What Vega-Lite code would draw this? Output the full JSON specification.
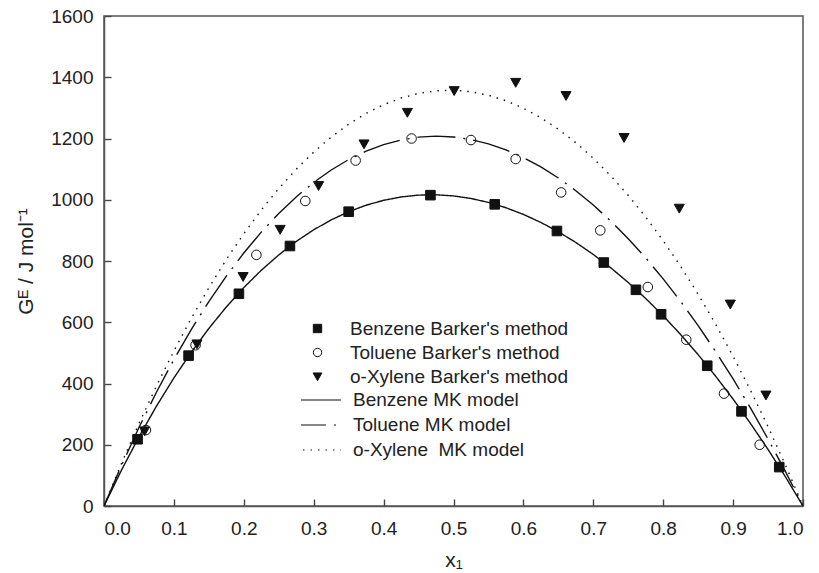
{
  "$schema": "https://vega.github.io/schema/vega-lite/v6.json",
  "width": 699,
  "height": 490,
  "autosize": {"type": "none"},
  "padding": {"left": 104, "top": 16, "right": 16, "bottom": 67},
  "background": "white",
  "config": {
    "font": "Liberation Sans",
    "view": {"stroke": "#555555", "strokeWidth": 1.5},
    "axis": {
      "grid": false,
      "domainColor": "#555555",
      "domainWidth": 1.5,
      "tickColor": "#444444",
      "tickWidth": 1.4,
      "tickSize": -7,
      "labelFont": "Liberation Sans",
      "labelFontSize": 19,
      "labelColor": "#222222",
      "titleFont": "Liberation Sans",
      "titleFontSize": 21,
      "titleFontWeight": "normal",
      "titleColor": "#222222"
    },
    "legend": {
      "labelFont": "Liberation Sans",
      "labelFontSize": 19,
      "labelColor": "#222222",
      "labelLimit": 0,
      "padding": 0,
      "rowPadding": 4,
      "symbolStrokeColor": "#111111",
      "symbolStrokeWidth": 1
    }
  },
  "datasets": {
    "points": [
      {"x": 0.048, "G": 218, "series": "Benzene Barker's method"},
      {"x": 0.121, "G": 491, "series": "Benzene Barker's method"},
      {"x": 0.193, "G": 693, "series": "Benzene Barker's method"},
      {"x": 0.266, "G": 849, "series": "Benzene Barker's method"},
      {"x": 0.350, "G": 961, "series": "Benzene Barker's method"},
      {"x": 0.467, "G": 1015, "series": "Benzene Barker's method"},
      {"x": 0.559, "G": 985, "series": "Benzene Barker's method"},
      {"x": 0.648, "G": 898, "series": "Benzene Barker's method"},
      {"x": 0.715, "G": 795, "series": "Benzene Barker's method"},
      {"x": 0.761, "G": 706, "series": "Benzene Barker's method"},
      {"x": 0.797, "G": 626, "series": "Benzene Barker's method"},
      {"x": 0.863, "G": 458, "series": "Benzene Barker's method"},
      {"x": 0.912, "G": 309, "series": "Benzene Barker's method"},
      {"x": 0.966, "G": 127, "series": "Benzene Barker's method"},
      {"x": 0.060, "G": 248, "series": "Toluene Barker's method"},
      {"x": 0.131, "G": 525, "series": "Toluene Barker's method"},
      {"x": 0.218, "G": 820, "series": "Toluene Barker's method"},
      {"x": 0.288, "G": 996, "series": "Toluene Barker's method"},
      {"x": 0.360, "G": 1128, "series": "Toluene Barker's method"},
      {"x": 0.440, "G": 1200, "series": "Toluene Barker's method"},
      {"x": 0.525, "G": 1195, "series": "Toluene Barker's method"},
      {"x": 0.589, "G": 1133, "series": "Toluene Barker's method"},
      {"x": 0.654, "G": 1024, "series": "Toluene Barker's method"},
      {"x": 0.710, "G": 900, "series": "Toluene Barker's method"},
      {"x": 0.778, "G": 715, "series": "Toluene Barker's method"},
      {"x": 0.833, "G": 543, "series": "Toluene Barker's method"},
      {"x": 0.887, "G": 367, "series": "Toluene Barker's method"},
      {"x": 0.938, "G": 200, "series": "Toluene Barker's method"},
      {"x": 0.058, "G": 245, "series": "o-Xylene Barker's method"},
      {"x": 0.133, "G": 529, "series": "o-Xylene Barker's method"},
      {"x": 0.199, "G": 749, "series": "o-Xylene Barker's method"},
      {"x": 0.252, "G": 903, "series": "o-Xylene Barker's method"},
      {"x": 0.307, "G": 1046, "series": "o-Xylene Barker's method"},
      {"x": 0.372, "G": 1182, "series": "o-Xylene Barker's method"},
      {"x": 0.434, "G": 1285, "series": "o-Xylene Barker's method"},
      {"x": 0.501, "G": 1356, "series": "o-Xylene Barker's method"},
      {"x": 0.589, "G": 1383, "series": "o-Xylene Barker's method"},
      {"x": 0.661, "G": 1340, "series": "o-Xylene Barker's method"},
      {"x": 0.744, "G": 1203, "series": "o-Xylene Barker's method"},
      {"x": 0.823, "G": 972, "series": "o-Xylene Barker's method"},
      {"x": 0.896, "G": 659, "series": "o-Xylene Barker's method"},
      {"x": 0.947, "G": 362, "series": "o-Xylene Barker's method"}
    ],
    "curves": [
      {"x": 0.0, "G": 0, "model": "Benzene MK model"},
      {"x": 0.025, "G": 117.1, "model": "Benzene MK model"},
      {"x": 0.05, "G": 225.6, "model": "Benzene MK model"},
      {"x": 0.075, "G": 325.8, "model": "Benzene MK model"},
      {"x": 0.1, "G": 418.1, "model": "Benzene MK model"},
      {"x": 0.125, "G": 502.6, "model": "Benzene MK model"},
      {"x": 0.15, "G": 579.8, "model": "Benzene MK model"},
      {"x": 0.175, "G": 649.9, "model": "Benzene MK model"},
      {"x": 0.2, "G": 713.1, "model": "Benzene MK model"},
      {"x": 0.225, "G": 769.7, "model": "Benzene MK model"},
      {"x": 0.25, "G": 819.8, "model": "Benzene MK model"},
      {"x": 0.275, "G": 863.9, "model": "Benzene MK model"},
      {"x": 0.3, "G": 901.9, "model": "Benzene MK model"},
      {"x": 0.325, "G": 934.2, "model": "Benzene MK model"},
      {"x": 0.35, "G": 960.9, "model": "Benzene MK model"},
      {"x": 0.375, "G": 982.2, "model": "Benzene MK model"},
      {"x": 0.4, "G": 998.2, "model": "Benzene MK model"},
      {"x": 0.425, "G": 1009.1, "model": "Benzene MK model"},
      {"x": 0.45, "G": 1015.1, "model": "Benzene MK model"},
      {"x": 0.475, "G": 1016.2, "model": "Benzene MK model"},
      {"x": 0.5, "G": 1012.5, "model": "Benzene MK model"},
      {"x": 0.525, "G": 1004.2, "model": "Benzene MK model"},
      {"x": 0.55, "G": 991.3, "model": "Benzene MK model"},
      {"x": 0.575, "G": 973.9, "model": "Benzene MK model"},
      {"x": 0.6, "G": 952.1, "model": "Benzene MK model"},
      {"x": 0.625, "G": 925.9, "model": "Benzene MK model"},
      {"x": 0.65, "G": 895.4, "model": "Benzene MK model"},
      {"x": 0.675, "G": 860.5, "model": "Benzene MK model"},
      {"x": 0.7, "G": 821.3, "model": "Benzene MK model"},
      {"x": 0.725, "G": 777.7, "model": "Benzene MK model"},
      {"x": 0.75, "G": 729.8, "model": "Benzene MK model"},
      {"x": 0.775, "G": 677.6, "model": "Benzene MK model"},
      {"x": 0.8, "G": 620.9, "model": "Benzene MK model"},
      {"x": 0.825, "G": 559.8, "model": "Benzene MK model"},
      {"x": 0.85, "G": 494.1, "model": "Benzene MK model"},
      {"x": 0.875, "G": 423.9, "model": "Benzene MK model"},
      {"x": 0.9, "G": 349.0, "model": "Benzene MK model"},
      {"x": 0.925, "G": 269.2, "model": "Benzene MK model"},
      {"x": 0.95, "G": 184.6, "model": "Benzene MK model"},
      {"x": 0.975, "G": 94.9, "model": "Benzene MK model"},
      {"x": 1.0, "G": 0, "model": "Benzene MK model"},
      {"x": 0.0, "G": 0, "model": "Toluene MK model"},
      {"x": 0.025, "G": 132.5, "model": "Toluene MK model"},
      {"x": 0.05, "G": 256.2, "model": "Toluene MK model"},
      {"x": 0.075, "G": 371.4, "model": "Toluene MK model"},
      {"x": 0.1, "G": 478.2, "model": "Toluene MK model"},
      {"x": 0.125, "G": 576.8, "model": "Toluene MK model"},
      {"x": 0.15, "G": 667.6, "model": "Toluene MK model"},
      {"x": 0.175, "G": 750.6, "model": "Toluene MK model"},
      {"x": 0.2, "G": 826.1, "model": "Toluene MK model"},
      {"x": 0.225, "G": 894.3, "model": "Toluene MK model"},
      {"x": 0.25, "G": 955.3, "model": "Toluene MK model"},
      {"x": 0.275, "G": 1009.3, "model": "Toluene MK model"},
      {"x": 0.3, "G": 1056.6, "model": "Toluene MK model"},
      {"x": 0.325, "G": 1097.1, "model": "Toluene MK model"},
      {"x": 0.35, "G": 1131.1, "model": "Toluene MK model"},
      {"x": 0.375, "G": 1158.7, "model": "Toluene MK model"},
      {"x": 0.4, "G": 1180.0, "model": "Toluene MK model"},
      {"x": 0.425, "G": 1195.2, "model": "Toluene MK model"},
      {"x": 0.45, "G": 1204.4, "model": "Toluene MK model"},
      {"x": 0.475, "G": 1207.6, "model": "Toluene MK model"},
      {"x": 0.5, "G": 1205.0, "model": "Toluene MK model"},
      {"x": 0.525, "G": 1196.6, "model": "Toluene MK model"},
      {"x": 0.55, "G": 1182.6, "model": "Toluene MK model"},
      {"x": 0.575, "G": 1162.9, "model": "Toluene MK model"},
      {"x": 0.6, "G": 1137.8, "model": "Toluene MK model"},
      {"x": 0.625, "G": 1107.1, "model": "Toluene MK model"},
      {"x": 0.65, "G": 1071.0, "model": "Toluene MK model"},
      {"x": 0.675, "G": 1029.5, "model": "Toluene MK model"},
      {"x": 0.7, "G": 982.6, "model": "Toluene MK model"},
      {"x": 0.725, "G": 930.4, "model": "Toluene MK model"},
      {"x": 0.75, "G": 872.8, "model": "Toluene MK model"},
      {"x": 0.775, "G": 809.9, "model": "Toluene MK model"},
      {"x": 0.8, "G": 741.6, "model": "Toluene MK model"},
      {"x": 0.825, "G": 668.0, "model": "Toluene MK model"},
      {"x": 0.85, "G": 589.0, "model": "Toluene MK model"},
      {"x": 0.875, "G": 504.6, "model": "Toluene MK model"},
      {"x": 0.9, "G": 414.8, "model": "Toluene MK model"},
      {"x": 0.925, "G": 319.5, "model": "Toluene MK model"},
      {"x": 0.95, "G": 218.6, "model": "Toluene MK model"},
      {"x": 0.975, "G": 112.1, "model": "Toluene MK model"},
      {"x": 1.0, "G": 0, "model": "Toluene MK model"},
      {"x": 0.0, "G": 0, "model": "o-Xylene\u00a0 MK model"},
      {"x": 0.025, "G": 138.5, "model": "o-Xylene\u00a0 MK model"},
      {"x": 0.05, "G": 269.0, "model": "o-Xylene\u00a0 MK model"},
      {"x": 0.075, "G": 391.6, "model": "o-Xylene\u00a0 MK model"},
      {"x": 0.1, "G": 506.3, "model": "o-Xylene\u00a0 MK model"},
      {"x": 0.125, "G": 613.3, "model": "o-Xylene\u00a0 MK model"},
      {"x": 0.15, "G": 712.7, "model": "o-Xylene\u00a0 MK model"},
      {"x": 0.175, "G": 804.7, "model": "o-Xylene\u00a0 MK model"},
      {"x": 0.2, "G": 889.2, "model": "o-Xylene\u00a0 MK model"},
      {"x": 0.225, "G": 966.5, "model": "o-Xylene\u00a0 MK model"},
      {"x": 0.25, "G": 1036.6, "model": "o-Xylene\u00a0 MK model"},
      {"x": 0.275, "G": 1099.6, "model": "o-Xylene\u00a0 MK model"},
      {"x": 0.3, "G": 1155.6, "model": "o-Xylene\u00a0 MK model"},
      {"x": 0.325, "G": 1204.6, "model": "o-Xylene\u00a0 MK model"},
      {"x": 0.35, "G": 1246.7, "model": "o-Xylene\u00a0 MK model"},
      {"x": 0.375, "G": 1282.0, "model": "o-Xylene\u00a0 MK model"},
      {"x": 0.4, "G": 1310.4, "model": "o-Xylene\u00a0 MK model"},
      {"x": 0.425, "G": 1332.2, "model": "o-Xylene\u00a0 MK model"},
      {"x": 0.45, "G": 1347.3, "model": "o-Xylene\u00a0 MK model"},
      {"x": 0.475, "G": 1355.7, "model": "o-Xylene\u00a0 MK model"},
      {"x": 0.5, "G": 1357.5, "model": "o-Xylene\u00a0 MK model"},
      {"x": 0.525, "G": 1352.7, "model": "o-Xylene\u00a0 MK model"},
      {"x": 0.55, "G": 1341.3, "model": "o-Xylene\u00a0 MK model"},
      {"x": 0.575, "G": 1323.4, "model": "o-Xylene\u00a0 MK model"},
      {"x": 0.6, "G": 1298.9, "model": "o-Xylene\u00a0 MK model"},
      {"x": 0.625, "G": 1267.9, "model": "o-Xylene\u00a0 MK model"},
      {"x": 0.65, "G": 1230.3, "model": "o-Xylene\u00a0 MK model"},
      {"x": 0.675, "G": 1186.2, "model": "o-Xylene\u00a0 MK model"},
      {"x": 0.7, "G": 1135.4, "model": "o-Xylene\u00a0 MK model"},
      {"x": 0.725, "G": 1078.1, "model": "o-Xylene\u00a0 MK model"},
      {"x": 0.75, "G": 1014.1, "model": "o-Xylene\u00a0 MK model"},
      {"x": 0.775, "G": 943.5, "model": "o-Xylene\u00a0 MK model"},
      {"x": 0.8, "G": 866.2, "model": "o-Xylene\u00a0 MK model"},
      {"x": 0.825, "G": 782.2, "model": "o-Xylene\u00a0 MK model"},
      {"x": 0.85, "G": 691.3, "model": "o-Xylene\u00a0 MK model"},
      {"x": 0.875, "G": 593.6, "model": "o-Xylene\u00a0 MK model"},
      {"x": 0.9, "G": 489.0, "model": "o-Xylene\u00a0 MK model"},
      {"x": 0.925, "G": 377.4, "model": "o-Xylene\u00a0 MK model"},
      {"x": 0.95, "G": 258.8, "model": "o-Xylene\u00a0 MK model"},
      {"x": 0.975, "G": 133.0, "model": "o-Xylene\u00a0 MK model"},
      {"x": 1.0, "G": 0, "model": "o-Xylene\u00a0 MK model"}
    ]
  },
  "layer": [
    {
      "data": {"name": "curves"},
      "mark": {"type": "line", "color": "#111111", "strokeWidth": 1.4, "clip": true},
      "encoding": {
        "x": {
          "field": "x", "type": "quantitative",
          "scale": {"domain": [0, 1], "nice": false, "zero": false},
          "axis": {"values": [0, 0.1, 0.2, 0.3, 0.4, 0.5, 0.6, 0.7, 0.8, 0.9, 1.0], "format": ".1f", "labelPadding": 20, "title": "x₁", "titlePadding": 11}
        },
        "y": {
          "field": "G", "type": "quantitative",
          "scale": {"domain": [0, 1600], "nice": false},
          "axis": {"values": [0, 200, 400, 600, 800, 1000, 1200, 1400, 1600], "format": "d", "labelPadding": 18, "title": "Gᴱ / J mol⁻¹", "titlePadding": 14}
        },
        "strokeDash": {
          "field": "model", "type": "nominal",
          "scale": {
            "domain": ["Benzene MK model", "Toluene MK model", "o-Xylene\u00a0 MK model"],
            "range": [[1, 0], [38, 8, 2, 8], [1.5, 6]]
          },
          "legend": {
            "title": null, "orient": "none", "legendX": 206, "legendY": 373,
            "symbolType": "M-2,0L2,0", "symbolSize": 400, "symbolStrokeWidth": 1.2, "labelOffset": 21,
            "symbolDashOffset": 13,
            "rowPadding": 4,
            "symbolStrokeColor": "#111111"
          }
        }
      }
    },
    {
      "data": {"name": "points"},
      "mark": {"type": "point", "filled": true, "size": 92, "strokeWidth": 1, "opacity": 1},
      "encoding": {
        "x": {"field": "x", "type": "quantitative"},
        "y": {"field": "G", "type": "quantitative"},
        "shape": {
          "field": "series", "type": "nominal",
          "scale": {
            "domain": ["Benzene Barker's method", "Toluene Barker's method", "o-Xylene Barker's method"],
            "range": ["square", "circle", "M-1.05,-0.85L1.05,-0.85L0,1.0Z"]
          },
          "legend": {"title": null, "orient": "none", "legendX": 204, "legendY": 303, "labelOffset": 23, "symbolSize": 70}
        },
        "fill": {
          "field": "series", "type": "nominal",
          "scale": {
            "domain": ["Benzene Barker's method", "Toluene Barker's method", "o-Xylene Barker's method"],
            "range": ["#111111", "transparent", "#111111"]
          },
          "legend": {"title": null, "orient": "none", "legendX": 204, "legendY": 303, "labelOffset": 23, "symbolSize": 70}
        },
        "stroke": {
          "field": "series", "type": "nominal",
          "scale": {
            "domain": ["Benzene Barker's method", "Toluene Barker's method", "o-Xylene Barker's method"],
            "range": ["#111111", "#111111", "#111111"]
          },
          "legend": {"title": null, "orient": "none", "legendX": 204, "legendY": 303, "labelOffset": 23, "symbolSize": 70}
        }
      }
    }
  ],
  "resolve": {"legend": {"strokeDash": "independent"}}
}
